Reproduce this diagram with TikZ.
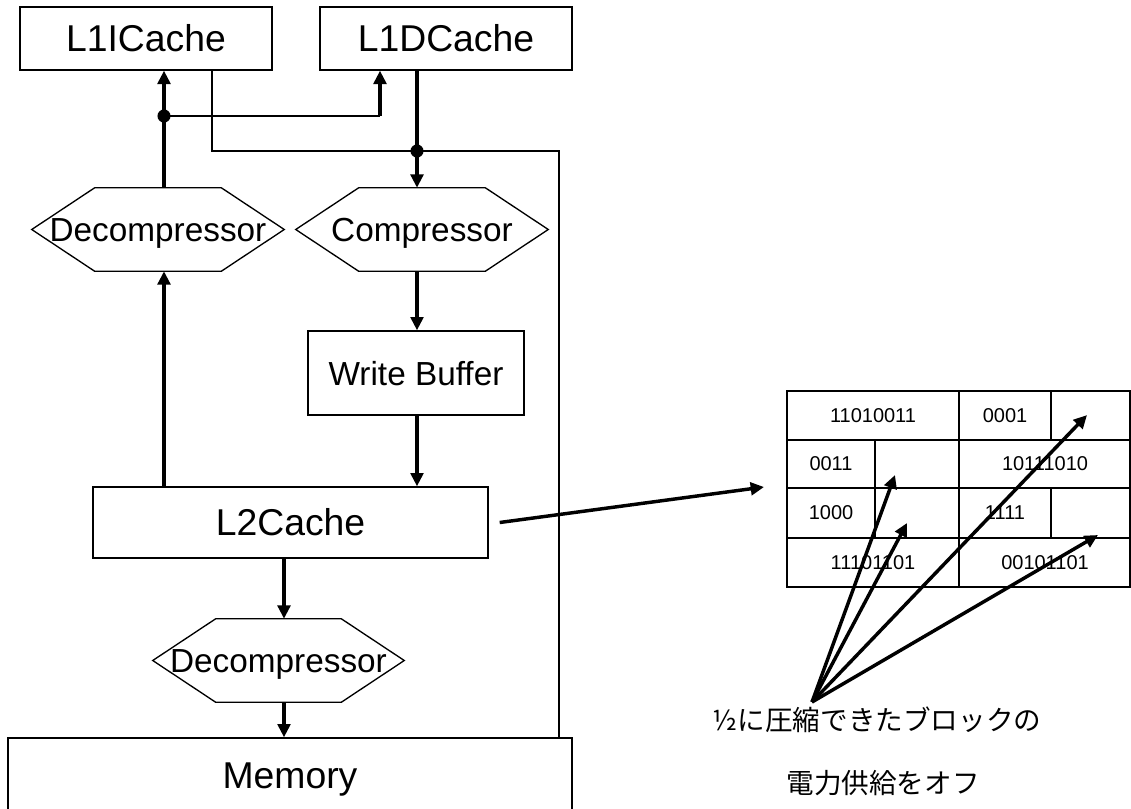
\documentclass[tikz,border=0pt]{standalone}
\usepackage{fontspec}
\setmainfont{Liberation Sans}
\newfontfamily\jpfont{Noto Sans CJK JP}
\usetikzlibrary{arrows.meta}

% outline of a stretched hexagon round a named node
\newcommand{\hexout}[1]{\draw[thn] (#1.west) -- ([xshift=47.25pt]#1.north west) -- ([xshift=-47.25pt]#1.north east) -- (#1.east) -- ([xshift=-47.25pt]#1.south east) -- ([xshift=47.25pt]#1.south west) -- cycle;}

\begin{document}
\begin{tikzpicture}[x=0.75pt,y=0.75pt,yscale=-1,xscale=1,
    thn/.style={line width=1pt},
    thk/.style={line width=2.6pt,-{Triangle[length=10pt,width=9.5pt]}},
    blk/.style={draw,line width=1pt,inner sep=0pt,font=\fontsize{28}{30}\selectfont,text height=20pt,text depth=0pt},
    hexlbl/.style={inner sep=0pt,minimum width=189pt,minimum height=62.25pt,font=\fontsize{25}{27}\selectfont,text height=18pt,text depth=0pt},
    bit/.style={inner sep=0pt,font=\fontsize{15}{17}\selectfont},
    jp/.style={inner sep=0pt,font=\jpfont\fontsize{20.7}{24}\selectfont}]
    \useasboundingbox (0,0) rectangle (1131,808);

    % caches and memory
    \node[blk,minimum width=189pt,minimum height=47.25pt] (l1i) at (146,38.5) {L1ICache};
    \node[blk,minimum width=189pt,minimum height=47.25pt] (l1d) at (446,38.5) {L1DCache};
    \node[blk,minimum width=162pt,minimum height=63pt,font=\fontsize{25}{27}\selectfont,text height=18pt] (wb) at (416,373) {Write Buffer};
    \node[blk,minimum width=296.25pt,minimum height=53.25pt] (l2) at (290.5,522.5) {L2Cache};
    \node[blk,minimum width=423pt,minimum height=55.5pt] (mem) at (290,775) {Memory};

    % hexagons
    \node[hexlbl] (dec1) at (158,229.5) {Decompressor};
    \node[hexlbl] (comp) at (422,229.5) {Compressor};
    \node[hexlbl,minimum width=188.25pt] (dec2) at (278.5,660.5) {Decompressor};
    \hexout{dec1}
    \hexout{comp}
    \hexout{dec2}

    \coordinate (j1) at (164,116);
    \coordinate (j2) at (417,151);
    \coordinate (k1) at (380,116);
    \coordinate (t1) at (212,151);
    \coordinate (t2) at (559,151);
    \coordinate (j3) at (284,600);

    \draw[thk] (l2.north -| j1) -- (dec1.south -| j1);
    \draw[thk] (dec1.north -| j1) -- (l1i.south -| j1);
    \draw[thn] (j1) -- (k1);
    \draw[thk] (k1) -- (l1d.south -| k1);
    \draw[thk] (l1d.south -| j2) -- (comp.north -| j2);
    \draw[thn] (l1i.south -| t1) -- (t1) -- (t2) -- (mem.north -| t2);
    \draw[thk] (comp.south -| j2) -- (wb.north -| j2);
    \draw[thk] (wb.south -| j2) -- (l2.north -| j2);
    \draw[thk] (l2.south -| j3) -- (dec2.north -| j3);
    \draw[thk] (dec2.south -| j3) -- (mem.north -| j3);
    \fill (j1) circle[radius=4.9pt];
    \fill (j2) circle[radius=4.9pt];

    % compressed L2 block
    \draw[thn] (787,391) rectangle (1130,587);
    \draw[thn] (787,440) -- (1130,440);
    \draw[thn] (787,488) -- (1130,488);
    \draw[thn] (787,538) -- (1130,538);
    \draw[thn] (959,391) -- (959,587);
    \draw[thn] (875,440) -- (875,538);
    \draw[thn] (1051,391) -- (1051,440);
    \draw[thn] (1051,488) -- (1051,538);

    \node[bit] (b11) at (873,415.5) {11010011};
    \node[bit] (b12) at (1005,415.5) {0001};
    \node[bit] (b21) at (831,464) {0011};
    \node[bit] (b22) at (1045,464) {10111010};
    \node[bit] (b31) at (831,513) {1000};
    \node[bit] (b32) at (1005,513) {1111};
    \node[bit] (b41) at (873,562.5) {11101101};
    \node[bit] (b42) at (1045,562.5) {00101101};

    \coordinate (tin) at (764,487);
    \draw[thk] ([xshift=8.25pt]l2.east) -- (tin);

    % empty halves switched off
    \coordinate (apex) at (812,702);
    \coordinate (e1) at (895,475);
    \coordinate (e2) at (907,523);
    \coordinate (e3) at (1087,415);
    \coordinate (e4) at (1098,535);
    \foreach \e in {e1,e2,e3,e4}
        \draw[thk] (apex) -- (\e);

    \node[jp] (note1) at (877,720) {½に圧縮できたブロックの};
    \node[jp] (note2) at (883,783) {電力供給をオフ};
\end{tikzpicture}
\end{document}
